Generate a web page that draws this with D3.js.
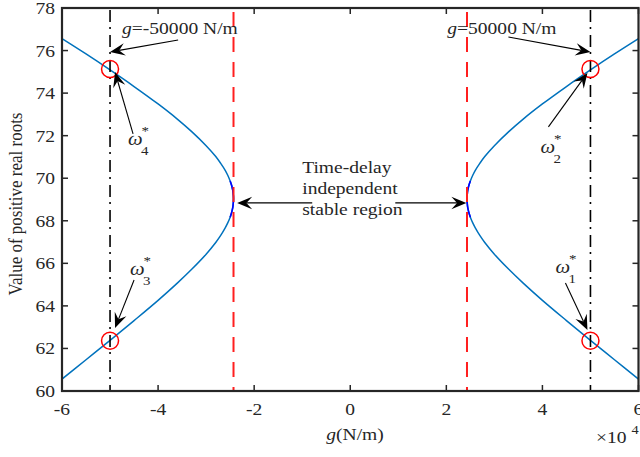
<!DOCTYPE html>
<html><head><meta charset="utf-8">
<script src="https://cdn.jsdelivr.net/npm/d3@7"></script>
<style>html,body{margin:0;padding:0;background:#fff;}svg{display:block;}</style>
</head><body>
<svg id="c" width="640" height="457"></svg>
<script>
// ---- data ----
const gAbs      = [24300, 24400, 24500, 24700, 25000, 25500, 26000, 27000, 28000, 30000, 33000, 36000, 40000, 45000, 50000, 55000, 60000];
const upperRoot = [69.03, 69.35, 69.48, 69.67, 69.87, 70.14, 70.36, 70.71, 71.02, 71.53, 72.19, 72.78, 73.49, 74.31, 75.09, 75.84, 76.56];
const lowerRoot = [69.03, 68.71, 68.57, 68.38, 68.17, 67.90, 67.68, 67.30, 66.98, 66.43, 65.72, 65.07, 64.26, 63.31, 62.38, 61.47, 60.56];
const stableCount = 5;            // first points (g <= 25000) drawn as the stable region
const boundaryG = [-24300, 24300]; // red dashed lines
const caseG = [-50000, 50000];     // black dash-dot lines
const markedRoots = [75.13, 62.36];
const xTicks = [-60000, -40000, -20000, 0, 20000, 40000, 60000];
const xTickLabels = ["-6", "-4", "-2", "0", "2", "4", "6"];
const yTicks = [60, 62, 64, 66, 68, 70, 72, 74, 76, 78];
// annotation arrows in data units: [gStart, wStart, gTip, wTip]
const arrows = [
  [-35833, 76.50, -50000, 75.93],
  [32917, 76.64, 50000, 75.93],
  [-45208, 72.08, -48958, 74.99],
  [-45000, 65.22, -48958, 62.96],
  [41250, 72.41, 49375, 74.95],
  [44792, 65.08, 49375, 62.87],
  [-7917, 68.84, -23540, 68.84],
  [9375, 68.84, 24170, 68.84]
];
const omegaLabels = [
  {g: -46250, w: 71.56, sub: "4"},
  {g: -45830, w: 65.45, sub: "3"},
  {g: 39580, w: 71.19, sub: "2"},
  {g: 42710, w: 65.55, sub: "1"}
];
const caseLabels = [
  {g: -47500, w: 76.78, text: "=-50000 N/m"},
  {g: 20200, w: 76.78, text: "=50000 N/m"}
];
const regionLines = ["Time-delay", "independent", "stable region"];
const regionPos = {g: -10000, w: [70.25, 69.26, 68.27]};

// ---- layout ----
const L = 62, R = 638.5, T = 8, B = 391;
const FONT = "'Liberation Serif','Times New Roman',serif";
const TXT = "#262626";
const SX = 1.15;
const svg = d3.select("#c");
const x = d3.scaleLinear().domain([-60000, 60000]).range([L, R]);
const y = d3.scaleLinear().domain([60, 78]).range([B, T]);

svg.append("defs").append("clipPath").attr("id", "clip")
  .append("rect").attr("x", L).attr("y", T).attr("width", R - L).attr("height", B - T);

function txt(parent, px, py, size, anchor) {
  return parent.append("text")
    .attr("transform", `translate(${px},${py}) scale(${SX},1)`)
    .attr("font-family", FONT).attr("font-size", size)
    .attr("fill", TXT).attr("text-anchor", anchor || "start");
}

const plot = svg.append("g").attr("clip-path", "url(#clip)");

// curves
const line = d3.line().x(d => x(d[0])).y(d => y(d[1])).curve(d3.curveCatmullRom.alpha(0.5));
[1, -1].forEach(s => {
  const pts = [];
  for (let i = gAbs.length - 1; i >= 0; i--) pts.push([s * gAbs[i], lowerRoot[i]]);
  for (let i = 1; i < gAbs.length; i++) pts.push([s * gAbs[i], upperRoot[i]]);
  plot.append("path").attr("d", line(pts)).attr("fill", "none")
    .attr("stroke", "#0072BD").attr("stroke-width", 1.5);
  const st = [];
  for (let i = stableCount - 1; i >= 0; i--) st.push([s * gAbs[i], lowerRoot[i]]);
  for (let i = 1; i < stableCount; i++) st.push([s * gAbs[i], upperRoot[i]]);
  plot.append("path").attr("d", line(st)).attr("fill", "none")
    .attr("stroke", "#0000FF").attr("stroke-width", 1.6);
});

// vertical reference lines
boundaryG.forEach(g => {
  plot.append("line").attr("x1", x(g)).attr("x2", x(g)).attr("y1", T).attr("y2", B)
    .attr("stroke", "#FF1F1F").attr("stroke-width", 2).attr("stroke-dasharray", "15,10")
    .attr("stroke-dashoffset", -4);
});
caseG.forEach(g => {
  plot.append("line").attr("x1", x(g)).attr("x2", x(g)).attr("y1", T).attr("y2", B)
    .attr("stroke", "#000").attr("stroke-width", 1.6).attr("stroke-dasharray", "12,5,2,6")
    .attr("stroke-dashoffset", -2);
});

// circles
caseG.forEach(g => markedRoots.forEach(w => {
  plot.append("circle").attr("cx", x(g)).attr("cy", y(w)).attr("r", 8.5)
    .attr("fill", "none").attr("stroke", "#FF0000").attr("stroke-width", 1.5);
}));

// axes box and ticks
const ax = svg.append("g");
const tl = 6;
xTicks.forEach(t => {
  ax.append("line").attr("x1", x(t)).attr("x2", x(t)).attr("y1", B).attr("y2", B - tl).attr("stroke", TXT).attr("stroke-width", 1.5);
  ax.append("line").attr("x1", x(t)).attr("x2", x(t)).attr("y1", T).attr("y2", T + tl).attr("stroke", TXT).attr("stroke-width", 1.5);
});
yTicks.forEach(t => {
  ax.append("line").attr("x1", L).attr("x2", L + tl).attr("y1", y(t)).attr("y2", y(t)).attr("stroke", TXT).attr("stroke-width", 1.5);
  ax.append("line").attr("x1", R).attr("x2", R - tl).attr("y1", y(t)).attr("y2", y(t)).attr("stroke", TXT).attr("stroke-width", 1.5);
});
ax.append("rect").attr("x", L).attr("y", T).attr("width", R - L).attr("height", B - T)
  .attr("fill", "none").attr("stroke", TXT).attr("stroke-width", 2.2);

// tick labels
xTicks.forEach((t, i) => txt(svg, x(t), 415, 17, "middle").text(xTickLabels[i]));
yTicks.forEach(t => txt(svg, 55, y(t) + 6, 17, "end").text(String(t)));

// axis labels
const xl = txt(svg, 355, 440, 17, "middle");
xl.append("tspan").attr("font-style", "italic").text("g");
xl.append("tspan").text("(N/m)");
svg.append("text").attr("transform", `translate(22,204) scale(${SX},1) rotate(-90)`)
  .attr("font-family", FONT).attr("font-size", 17).attr("fill", TXT).attr("text-anchor", "middle")
  .text("Value of positive real roots");
txt(svg, 596, 443, 17, "start").text("\u00D710");
txt(svg, 631.5, 434, 12.5, "start").text("4");

// arrows
const ann = svg.append("g");
arrows.forEach(a => {
  const x0 = x(a[0]), y0 = y(a[1]), x1 = x(a[2]), y1 = y(a[3]);
  const ang = Math.atan2(y1 - y0, x1 - x0);
  const Lh = 15, Wh = 12.5, notch = 0.62 * Lh;
  const nx = x1 - notch * Math.cos(ang), ny = y1 - notch * Math.sin(ang);
  ann.append("line").attr("x1", x0).attr("y1", y0).attr("x2", nx).attr("y2", ny)
    .attr("stroke", "#000").attr("stroke-width", 1.1);
  ann.append("path")
    .attr("d", `M0,0 L${-Lh},${-Wh / 2} L${-notch},0 L${-Lh},${Wh / 2} Z`)
    .attr("transform", `translate(${x1},${y1}) rotate(${ang * 180 / Math.PI})`)
    .attr("fill", "#000");
});

// case labels
caseLabels.forEach(c => {
  const t = txt(ann, x(c.g), y(c.w), 17, "start");
  t.append("tspan").attr("font-style", "italic").text("g");
  t.append("tspan").text(c.text);
});

// omega labels
omegaLabels.forEach(o => {
  const px = x(o.g), py = y(o.w);
  txt(ann, px, py, 18, "start").attr("font-style", "italic").text("\u03C9");
  txt(ann, px + 13.5, py - 10, 13, "start").text("*");
  txt(ann, px + 13, py + 10, 13, "start").text(o.sub);
});

// region text
regionLines.forEach((s, i) => txt(ann, x(regionPos.g), y(regionPos.w[i]), 17, "start").text(s));
</script>
</body></html>
